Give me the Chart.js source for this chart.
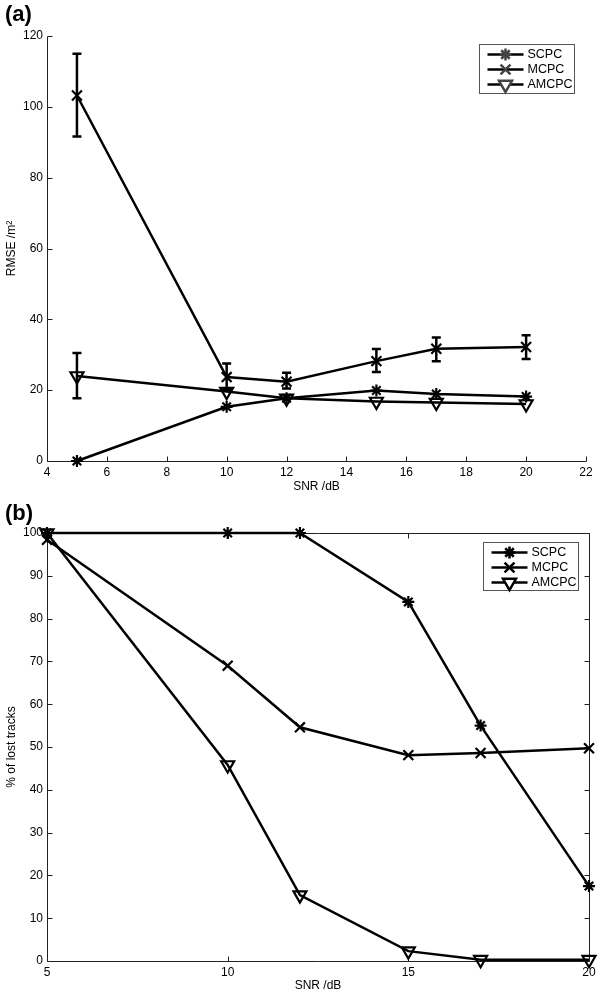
<!DOCTYPE html>
<html>
<head>
<meta charset="utf-8">
<script src="https://cdn.jsdelivr.net/npm/chart.js@4.4.1/dist/chart.umd.min.js"></script>
<style>
  html, body { margin: 0; padding: 0; background: #fff; }
  #wrap { position: relative; width: 600px; height: 993px; overflow: hidden; }
  canvas { position: absolute; left: 0; }
  #chartA { top: 0; }
  #chartB { top: 500px; }
  .tag { position: absolute; left: 5px; font: bold 22px "Liberation Sans", Arial, sans-serif; color: #000; }
</style>
</head>
<body>
<div id="wrap">
  <canvas id="chartA" width="600" height="500"></canvas>
  <canvas id="chartB" width="600" height="493"></canvas>
  <div class="tag" style="top:1px">(a)</div>
  <div class="tag" style="top:500px">(b)</div>
</div>
<script>
// (a) RMSE vs SNR
const snrA = [5, 10, 12, 15, 17, 20];
const rmseScpc = [0, 15.3, 17.7, 19.9, 18.9, 18.2];
const rmseMcpc = [103.2, 23.7, 22.4, 28.2, 31.7, 32.2];
const rmseMcpcLow = [91.6, 20.1, 20.5, 25.1, 28.2, 28.8];
const rmseMcpcHigh = [115, 27.5, 24.9, 31.6, 34.9, 35.5];
const rmseAmcpc = [24.0, 19.6, 17.7, 16.8, 16.5, 16.1];
const rmseAmcpcLow = [17.7, null, null, null, null, null];
const rmseAmcpcHigh = [30.5, null, null, null, null, null];

// (b) % of lost tracks vs SNR
const snrB = [5, 10, 12, 15, 17, 20];
const lostScpc = [100, 100, 100, 83.9, 55.0, 17.5];
const lostMcpc = [98.4, 69, 54.6, 48.1, 48.6, 49.7];
const lostAmcpc = [100, 45.8, 15.4, 2.3, 0.3, 0.3];

const seriesNames = ['SCPC', 'MCPC', 'AMCPC'];

const FONT = '"Liberation Sans", Arial, Helvetica, sans-serif';
const INK = '#000';

const pts = (xs, ys) => xs.map((x, i) => ({ x: x, y: ys[i] }));

const markers = [
    { pointStyle: 'star', radius: 6, rotation: 0 },
    { pointStyle: 'crossRot', radius: 7, rotation: 0 },
    { pointStyle: 'triangle', radius: 7.5, rotation: 180 }
];

function makeSet(i, xs, ys, extra) {
    const m = markers[i];
    return Object.assign({
        label: seriesNames[i],
        data: pts(xs, ys),
        borderColor: INK,
        borderWidth: 2.5,
        pointStyle: m.pointStyle,
        pointRadius: m.radius,
        pointRotation: m.rotation,
        pointBorderWidth: 2.2,
        pointBorderColor: INK,
        pointBackgroundColor: 'rgba(0,0,0,0)',
        pointHoverRadius: m.radius,
        tension: 0,
        clip: false
    }, extra || {});
}

// axes drawn matlab style: ticks pointing inwards, optional closed box
const frame = {
    id: 'frame',
    beforeDatasetsDraw(chart, args, opts) {
        const { ctx, chartArea: a, scales: { x, y } } = chart;
        const L = Math.round(a.left) + 0.5, R = Math.round(a.right) + 0.5;
        const T = Math.round(a.top) + 0.5, B = Math.round(a.bottom) + 0.5;
        const tl = 5;
        ctx.save();
        ctx.strokeStyle = '#222';
        ctx.lineWidth = 1;
        ctx.beginPath();
        ctx.moveTo(L, T); ctx.lineTo(L, B); ctx.lineTo(R, B);
        if (opts.box) { ctx.lineTo(R, T); ctx.lineTo(L, T); }
        x.ticks.forEach(t => {
            const px = Math.round(x.getPixelForValue(t.value)) + 0.5;
            ctx.moveTo(px, B); ctx.lineTo(px, B - tl);
            if (opts.box) { ctx.moveTo(px, T); ctx.lineTo(px, T + tl); }
        });
        y.ticks.forEach(t => {
            const py = Math.round(y.getPixelForValue(t.value)) + 0.5;
            ctx.moveTo(L, py); ctx.lineTo(L + tl, py);
            if (opts.box) { ctx.moveTo(R, py); ctx.lineTo(R - tl, py); }
        });
        ctx.stroke();
        ctx.restore();
    }
};

const errorBars = {
    id: 'errorBars',
    afterDatasetsDraw(chart) {
        const { ctx, scales: { x, y } } = chart;
        ctx.save();
        ctx.strokeStyle = INK;
        ctx.lineWidth = 2.5;
        chart.data.datasets.forEach(ds => {
            if (!ds.errLow) return;
            ds.data.forEach((p, i) => {
                const lo = ds.errLow[i], hi = ds.errHigh[i];
                if (lo == null || hi == null) return;
                const px = x.getPixelForValue(p.x);
                const y1 = y.getPixelForValue(lo), y2 = y.getPixelForValue(hi);
                ctx.beginPath();
                ctx.moveTo(px, y1); ctx.lineTo(px, y2);
                ctx.moveTo(px - 4.5, y1); ctx.lineTo(px + 4.5, y1);
                ctx.moveTo(px - 4.5, y2); ctx.lineTo(px + 4.5, y2);
                ctx.stroke();
            });
        });
        ctx.restore();
    }
};

const boxLegend = {
    id: 'boxLegend',
    afterDraw(chart, args, o) {
        const { ctx, chartArea: a } = chart;
        const x0 = Math.round(a.right - o.right - o.width) + 0.5;
        const y0 = Math.round(a.top + o.top) + 0.5;
        ctx.save();
        ctx.fillStyle = '#fff';
        ctx.fillRect(x0, y0, o.width, o.height);
        ctx.strokeStyle = '#555';
        ctx.lineWidth = 1;
        ctx.strokeRect(x0, y0, o.width, o.height);
        ctx.font = '12.5px ' + FONT;
        ctx.textBaseline = 'middle';
        chart.data.datasets.forEach((ds, i) => {
            const cy = y0 + 10 + i * 15;
            ctx.strokeStyle = INK;
            ctx.lineWidth = 2.5;
            ctx.beginPath();
            ctx.moveTo(x0 + 8, cy); ctx.lineTo(x0 + 44, cy);
            ctx.stroke();
            ctx.strokeStyle = o.markColor;
            ctx.fillStyle = '#fff';
            Chart.helpers.drawPoint(ctx, {
                pointStyle: ds.pointStyle,
                radius: ds.pointRadius,
                rotation: ds.pointRotation,
                borderWidth: o.markWidth
            }, x0 + 26, cy);
            ctx.fillStyle = INK;
            ctx.fillText(ds.label, x0 + 48, cy + 0.5);
        });
        ctx.restore();
    }
};

function axisOpts(min, max, step, title, titlePad) {
    return {
        type: 'linear',
        min: min,
        max: max,
        ticks: { stepSize: step, color: INK, padding: 4, font: { family: FONT, size: 12 } },
        grid: { display: false, drawTicks: false },
        border: { display: false },
        title: { display: true, text: title, color: INK, font: { family: FONT, size: 12 }, padding: titlePad }
    };
}

function build(id, sets, xr, yr, fit, legendPos, box, legendMark) {
    const xs = axisOpts(xr[0], xr[1], xr[2], 'SNR /dB', { top: 0, bottom: fit.titleB });
    xs.afterFit = s => { s.height = fit.xh; };
    const ys = axisOpts(yr[0], yr[1], yr[2], yr[3], { top: 4, bottom: 0 });
    ys.afterFit = s => { s.width = 47; };
    return new Chart(document.getElementById(id).getContext('2d'), {
        type: 'line',
        data: { datasets: sets },
        options: {
            responsive: false,
            devicePixelRatio: 1,
            animation: false,
            layout: { padding: { left: 0, right: fit.right, top: fit.top, bottom: 0 } },
            plugins: {
                legend: { display: false },
                tooltip: { enabled: false },
                frame: { box: box },
                boxLegend: Object.assign({}, legendPos, legendMark)
            },
            scales: { x: xs, y: ys }
        },
        plugins: [frame, errorBars, boxLegend]
    });
}

build('chartA', [
    makeSet(0, snrA, rmseScpc),
    makeSet(1, snrA, rmseMcpc, { errLow: rmseMcpcLow, errHigh: rmseMcpcHigh }),
    makeSet(2, snrA, rmseAmcpc, { errLow: rmseAmcpcLow, errHigh: rmseAmcpcHigh })
], [4, 22, 2], [0, 120, 20, 'RMSE /m\u00b2'],
   { xh: 39, right: 14, top: 36, titleB: 6 },
   { right: 12, top: 8, width: 95, height: 49 }, false,
   { markColor: '#444', markWidth: 1 });

build('chartB', [
    makeSet(0, snrB, lostScpc),
    makeSet(1, snrB, lostMcpc),
    makeSet(2, snrB, lostAmcpc)
], [5, 20, 5], [0, 100, 10, '% of lost tracks'],
   { xh: 32, right: 11, top: 33, titleB: 0 },
   { right: 11, top: 9, width: 95, height: 48 }, true,
   { markColor: INK, markWidth: 2 });
</script>
</body>
</html>
